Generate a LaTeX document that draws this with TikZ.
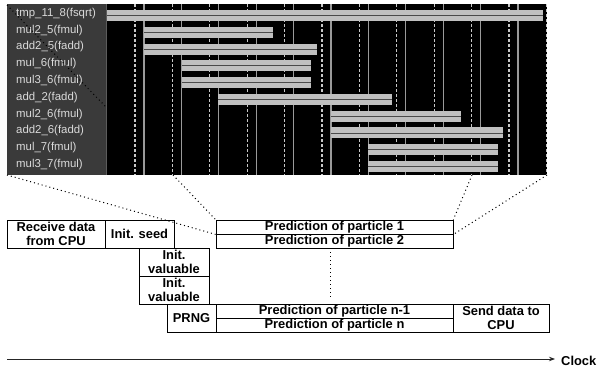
\documentclass[tikz,border=0pt]{standalone}
\usepackage{fontspec}
\setmainfont{Liberation Sans}
\usetikzlibrary{arrows.meta}
\definecolor{labbg}{HTML}{3A3A3A}
\definecolor{labfg}{HTML}{DADADA}
\definecolor{barfg}{HTML}{C0C0C0}
\definecolor{barmid}{HTML}{4A4A4A}
\definecolor{gridc}{HTML}{9A9A9A}
\definecolor{dashc}{HTML}{C8C8C8}
\begin{document}
\begin{tikzpicture}[x=1pt,y=-1pt,
  box/.style={draw=black,line width=0.8pt,inner sep=0pt,align=center,
    font=\bfseries\fontsize{12.9}{13.6}\selectfont},
  lab/.style={anchor=base west,inner sep=0pt,text=labfg,font=\fontsize{11.4}{12}\selectfont},
  solidgrid/.style={draw=gridc,line width=1.2pt},
  dashgrid/.style={draw=dashc,line width=1.2pt,dash pattern=on 3pt off 2pt},
  zoomline/.style={draw=black,line width=1pt,dash pattern=on 1pt off 3pt},
  barstyle/.style={fill=barfg},
  barline/.style={draw=barmid,line width=0.9pt}]
\useasboundingbox (0,0) rectangle (599,372);
% ---- timing panel ----
\fill[labbg] (7,4) rectangle (106,175);
\fill[black] (106,4) rectangle (547,175);
\draw[draw=gridc!60!black,line width=1pt] (106.5,4) -- (106.5,175);
\foreach \k in {0,...,10} {
  \draw[dashgrid] ({135+37.4*\k},4) -- ({135+37.4*\k},175);
  \draw[solidgrid] ({144+37.4*\k},4) -- ({144+37.4*\k},175);
}
\draw[dashgrid] (546.6,4) -- (546.6,175);
\foreach \r/\a/\b in {0/107/543,1/144/273,2/144/317,3/182/311,4/182/311,
                      5/218/392,6/331/461,7/331/503,8/368/498,9/368/498} {
  \pgfmathsetmacro\yc{15.5+16.78*\r}
  \fill[barstyle] ({\a},{\yc-5.5}) rectangle ({\b},{\yc+5.5});
  \draw[barline] ({\a},{\yc}) -- ({\b},{\yc});
}
\foreach \r/\t in {0/tmp\_11\_8(fsqrt),1/mul2\_5(fmul),2/add2\_5(fadd),3/mul\_6(fmul),
                   4/mul3\_6(fmul),5/add\_2(fadd),6/mul2\_6(fmul),7/add2\_6(fadd),
                   8/mul\_7(fmul),9/mul3\_7(fmul)} {
  \pgfmathsetmacro\yc{15.5+16.78*\r}
  \node[lab] (l\r) at (16,{\yc+0.9}) {\t};
}
\coordinate (d1) at (7,5);
\coordinate (d2) at (106,107);
\draw[zoomline] (d1) -- (d2);
% ---- blocks ----
\node[box,minimum width=98pt,minimum height=28pt] (recv) at (56,234) {Receive data\\from CPU};
\node[box,minimum width=69pt,minimum height=28pt] (seed) at (139.5,234) {Init. seed};
\node[box,minimum width=70pt,minimum height=28pt] (val1) at (174,262) {Init.\\valuable};
\node[box,minimum width=70pt,minimum height=28pt] (val2) at (174,290) {Init.\\valuable};
\node[box,minimum width=49pt,minimum height=28pt] (prng) at (191.5,318) {PRNG};
\node[box,minimum width=237pt,minimum height=14pt] (p1) at (334.5,227) {Prediction of particle 1};
\node[box,minimum width=237pt,minimum height=14pt] (p2) at (334.5,241) {Prediction of particle 2};
\node[box,minimum width=237pt,minimum height=14pt] (pn1) at (334.5,311) {Prediction of particle n-1};
\node[box,minimum width=237pt,minimum height=14pt] (pn) at (334.5,325) {Prediction of particle n};
\node[box,minimum width=96pt,minimum height=28pt] (send) at (501,318) {Send data to\\CPU};
% ---- zoom connectors ----
\coordinate (zA) at (7,175);
\coordinate (zB) at (173,175);
\coordinate (zC) at (472,175);
\coordinate (zD) at (547,175);
\draw[zoomline] (zA) -- (p1.south west);
\draw[zoomline] (zB) -- (p1.north west);
\draw[zoomline] (zC) -- (p1.north east);
\draw[zoomline] (zD) -- (p1.south east);
\coordinate (v1) at (330,252);
\coordinate (v2) at (330,299);
\draw[zoomline] (v1) -- (v2);
% ---- clock axis ----
\coordinate (c0) at (7,359);
\node[anchor=west,inner ysep=0pt,inner xsep=6pt,font=\bfseries\fontsize{12.9}{13.6}\selectfont] (clock) at (555,361) {Clock};
\draw[draw=black!85,line width=0.9pt,-{Stealth[length=6pt,width=4.5pt]}] (c0) -- (c0 -| clock.west);
\end{tikzpicture}
\end{document}
